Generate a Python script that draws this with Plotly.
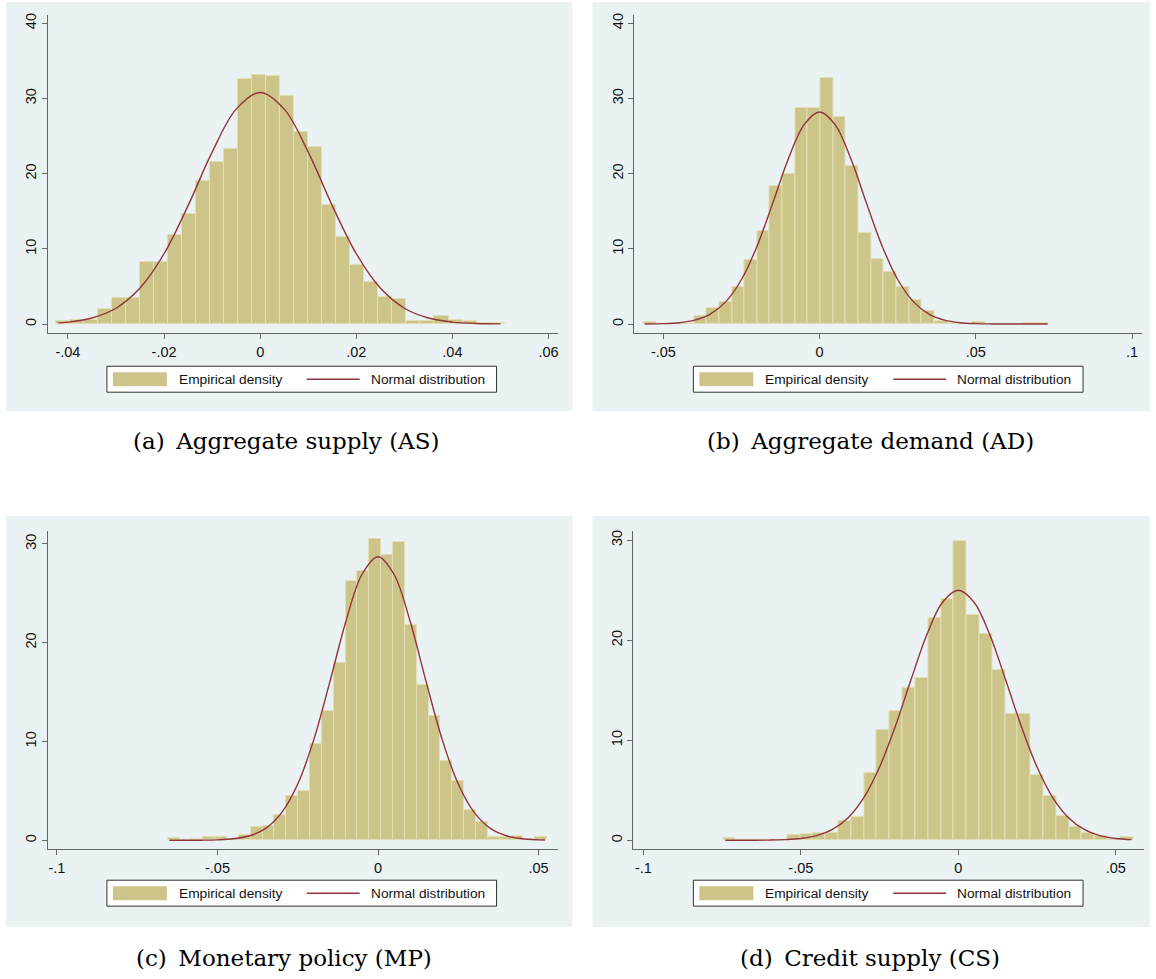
import plotly.graph_objects as go

W, H = 1156, 979

# ---------------- data ----------------
# (a) Aggregate supply
as_bin_start = -0.0425
as_bin_width = 0.002917
as_density = [0.4, 0.6, 0.5, 2.0, 3.5, 3.5, 8.3, 8.3, 11.8, 14.7,
              19.0, 21.5, 23.3, 32.6, 33.1, 33.0, 30.3, 25.6, 23.5, 15.8,
              11.6, 7.9, 5.6, 3.6, 3.3, 0.4, 0.4, 1.1, 0.6, 0.4,
              0.1, 0.1]
as_curve_x = [-0.042, -0.04, -0.035, -0.03, -0.025, -0.02, -0.015, -0.01, -0.005, 0,
              0.005, 0.01, 0.015, 0.02, 0.025, 0.03, 0.035, 0.04, 0.045, 0.05]
as_curve_y = [0.16, 0.26, 0.80, 2.10, 4.78, 9.35, 15.75, 22.86, 28.58, 30.8,
              28.58, 22.86, 15.75, 9.35, 4.78, 2.10, 0.80, 0.26, 0.07, 0.02]

# (b) Aggregate demand
ad_bin_start = -0.0564
ad_bin_width = 0.00405
ad_density = [0.3, 0, 0, 0, 1.1, 2.1, 2.9, 4.9, 8.5, 12.4,
              18.3, 19.9, 28.7, 28.7, 32.7, 27.5, 21.0, 12.1, 8.6, 6.9,
              4.9, 3.2, 1.7, 0.4, 0.1, 0, 0.3, 0, 0, 0,
              0.15, 0.15]
ad_curve_x = [-0.056, -0.05, -0.045, -0.04, -0.035, -0.03, -0.025, -0.02, -0.015, -0.01,
              -0.005, 0, 0.005, 0.01, 0.015, 0.02, 0.025, 0.03, 0.035, 0.04,
              0.045, 0.05, 0.055, 0.06, 0.065, 0.07, 0.073]
ad_curve_y = [0.011, 0.055, 0.18, 0.52, 1.32, 2.98, 5.92, 10.39, 16.08, 21.97,
              26.49, 28.2, 26.49, 21.97, 16.08, 10.39, 5.92, 2.98, 1.32, 0.52,
              0.18, 0.055, 0.015, 0.004, 0.001, 0.0, 0.0]

# (c) Monetary policy
mp_bin_start = -0.0655
mp_bin_width = 0.003693
mp_density = [0.2, 0.05, 0.15, 0.3, 0.3, 0.1, 0.5, 1.4, 1.5, 2.6,
              4.5, 5.0, 9.8, 13.1, 18.0, 26.3, 27.3, 30.5, 28.9, 30.2,
              21.8, 15.7, 12.6, 8.0, 6.0, 3.1, 1.9, 0.3, 0.3, 0.45,
              0.05, 0.3]
mp_curve_x = [-0.065, -0.06, -0.055, -0.05, -0.045, -0.04, -0.035, -0.03, -0.025, -0.02,
              -0.015, -0.01, -0.005, 0, 0.005, 0.01, 0.015, 0.02, 0.025, 0.03,
              0.035, 0.04, 0.045, 0.05, 0.052]
mp_curve_y = [0.0, 0.003, 0.011, 0.045, 0.15, 0.46, 1.21, 2.80, 5.69, 10.19,
              16.03, 22.16, 26.90, 28.7, 26.90, 22.16, 16.03, 10.19, 5.69, 2.80,
              1.21, 0.46, 0.15, 0.045, 0.026]

# (d) Credit supply
cs_bin_start = -0.0747
cs_bin_width = 0.00407
cs_density = [0.2, 0, 0, 0, 0.05, 0.5, 0.6, 0.75, 0.75, 1.9,
              2.3, 6.7, 11.0, 12.9, 15.2, 16.2, 22.2, 24.1, 29.9, 22.5,
              20.6, 17.0, 12.6, 12.6, 6.5, 4.4, 2.4, 1.3, 0.7, 0.4,
              0.1, 0.35]
cs_curve_x = [-0.074, -0.07, -0.065, -0.06, -0.055, -0.05, -0.045, -0.04, -0.035, -0.03,
              -0.025, -0.02, -0.015, -0.01, -0.005, 0, 0.005, 0.01, 0.015, 0.02,
              0.025, 0.03, 0.035, 0.04, 0.045, 0.05, 0.055]
cs_curve_y = [0.0, 0.002, 0.006, 0.021, 0.066, 0.18, 0.47, 1.08, 2.26, 4.27,
              7.33, 11.40, 16.07, 20.55, 23.80, 25.0, 23.80, 20.55, 16.07, 11.40,
              7.33, 4.27, 2.26, 1.08, 0.47, 0.18, 0.066]

# tick labels
ab_y_ticks = [0, 10, 20, 30, 40]
cd_y_ticks = [0, 10, 20, 30]
as_x_ticks = [-0.04, -0.02, 0, 0.02, 0.04, 0.06]
as_x_labels = ["-.04", "-.02", "0", ".02", ".04", ".06"]
ad_x_ticks = [-0.05, 0, 0.05, 0.1]
ad_x_labels = ["-.05", "0", ".05", ".1"]
cd_x_ticks = [-0.1, -0.05, 0, 0.05]
cd_x_labels = ["-.1", "-.05", "0", ".05"]

captions = ["(a)\u2002Aggregate supply (AS)", "(b)\u2002Aggregate demand (AD)",
            "(c)\u2002Monetary policy (MP)", "(d)\u2002Credit supply (CS)"]
legend_labels = ["Empirical density", "Normal distribution"]

# ---------------- styling / layout ----------------
BAR_COLOR = "#CCC488"
BAR_EDGE = "#E3DFB8"
LINE_COLOR = "#90353B"
BG = "#EAF2F3"
AXIS_COLOR = "#666666"
TICK_FONT = dict(family="Liberation Sans, Arial, sans-serif", size=14.5, color="#111111")
LEGEND_FONT = dict(family="Liberation Sans, Arial, sans-serif", size=13.7, color="#111111")
CAPTION_FONT = dict(family="DejaVu Serif, serif", size=23, color="#000000")

panels = [
    dict(start=as_bin_start, width=as_bin_width, dens=as_density, cx=as_curve_x, cy=as_curve_y,
         xt=as_x_ticks, xl=as_x_labels, yt=ab_y_ticks,
         plot=(48, 558, 13, 332), xr=(-0.04416, 0.06187), yr=(-1.234, 41.10),
         bg=(6, 573, 0, 410), caption_xy=(286, 440)),
    dict(start=ad_bin_start, width=ad_bin_width, dens=ad_density, cx=ad_curve_x, cy=ad_curve_y,
         xt=ad_x_ticks, xl=ad_x_labels, yt=ab_y_ticks,
         plot=(635, 1143, 13, 332), xr=(-0.05927, 0.1032), yr=(-1.234, 41.10),
         bg=(593, 1151, 0, 410), caption_xy=(871, 440)),
    dict(start=mp_bin_start, width=mp_bin_width, dens=mp_density, cx=mp_curve_x, cy=mp_curve_y,
         xt=cd_x_ticks, xl=cd_x_labels, yt=cd_y_ticks,
         plot=(48, 558, 530, 849), xr=(-0.1028, 0.05591), yr=(-0.909, 31.31),
         bg=(6, 573, 515, 927), caption_xy=(284, 958)),
    dict(start=cs_bin_start, width=cs_bin_width, dens=cs_density, cx=cs_curve_x, cy=cs_curve_y,
         xt=cd_x_ticks, xl=cd_x_labels, yt=cd_y_ticks,
         plot=(634, 1145, 530, 849), xr=(-0.10317, 0.05898), yr=(-0.898, 30.93),
         bg=(593, 1151, 515, 927), caption_xy=(871, 958)),
]


def px_x(v):
    return v / W


def px_y(v):
    return 1 - v / H


fig = go.Figure()
shapes = []
annotations = []
layout = {}

for i, p in enumerate(panels):
    n = i + 1
    xa = "x" if n == 1 else f"x{n}"
    ya = "y" if n == 1 else f"y{n}"
    centers = [p["start"] + p["width"] * (k + 0.5) for k in range(len(p["dens"]))]
    fig.add_trace(go.Bar(
        x=centers, y=p["dens"], width=p["width"],
        marker=dict(color=BAR_COLOR, line=dict(color=BAR_EDGE, width=1)),
        xaxis=xa, yaxis=ya, showlegend=False, name=legend_labels[0]))
    fig.add_trace(go.Scatter(
        x=p["cx"], y=p["cy"], mode="lines",
        line=dict(color=LINE_COLOR, width=1.4, shape="spline", smoothing=1.0),
        xaxis=xa, yaxis=ya, showlegend=False, name=legend_labels[1]))

    x0, x1, y0, y1 = p["plot"]
    xkey = "xaxis" if n == 1 else f"xaxis{n}"
    ykey = "yaxis" if n == 1 else f"yaxis{n}"
    layout[xkey] = dict(
        domain=[px_x(x0), px_x(x1)], range=list(p["xr"]), anchor=ya,
        tickvals=p["xt"], ticktext=p["xl"], ticks="outside", ticklen=5,
        tickcolor=AXIS_COLOR, showline=True, linecolor=AXIS_COLOR, linewidth=1,
        showgrid=False, zeroline=False, tickfont=TICK_FONT, fixedrange=True)
    layout[ykey] = dict(
        domain=[px_y(y1), px_y(y0)], range=list(p["yr"]), anchor=xa,
        tickvals=p["yt"], ticktext=[str(t) for t in p["yt"]], ticks="outside", ticklen=5,
        tickcolor=AXIS_COLOR, showline=True, linecolor=AXIS_COLOR, linewidth=1,
        showgrid=True, gridcolor=BG, gridwidth=1, zeroline=False,
        tickangle=-90, tickfont=TICK_FONT, fixedrange=True)

    # panel background
    bx0, bx1, by0, by1 = p["bg"]
    shapes.append(dict(type="rect", xref="paper", yref="paper", layer="below",
                       x0=px_x(bx0), x1=px_x(bx1), y0=px_y(by1), y1=px_y(by0),
                       fillcolor=BG, line=dict(width=0)))

    # legend box
    lx = bx0 + 101
    ly = by0 + 365
    shapes.append(dict(type="rect", xref="paper", yref="paper",
                       x0=px_x(lx), x1=px_x(lx + 390), y0=px_y(ly + 26), y1=px_y(ly),
                       fillcolor="white", line=dict(color="#333333", width=1)))
    shapes.append(dict(type="rect", xref="paper", yref="paper",
                       x0=px_x(lx + 6), x1=px_x(lx + 60), y0=px_y(ly + 20), y1=px_y(ly + 6),
                       fillcolor=BAR_COLOR, line=dict(width=0)))
    shapes.append(dict(type="line", xref="paper", yref="paper",
                       x0=px_x(lx + 200), x1=px_x(lx + 253), y0=px_y(ly + 13), y1=px_y(ly + 13),
                       line=dict(color=LINE_COLOR, width=1.4)))
    annotations.append(dict(xref="paper", yref="paper", x=px_x(lx + 70), y=px_y(ly + 13),
                            text=legend_labels[0], showarrow=False, xanchor="left",
                            yanchor="middle", font=LEGEND_FONT))
    annotations.append(dict(xref="paper", yref="paper", x=px_x(lx + 262), y=px_y(ly + 13),
                            text=legend_labels[1], showarrow=False, xanchor="left",
                            yanchor="middle", font=LEGEND_FONT))

    cx, cy = p["caption_xy"]
    annotations.append(dict(xref="paper", yref="paper", x=px_x(cx), y=px_y(cy),
                            text=captions[i], showarrow=False, xanchor="center",
                            yanchor="middle", font=CAPTION_FONT))

fig.update_layout(
    width=W, height=H, margin=dict(l=0, r=0, t=0, b=0),
    paper_bgcolor="white", plot_bgcolor="white",
    showlegend=False, bargap=0,
    shapes=shapes, annotations=annotations,
    **layout)

fig.write_html("out.html", include_plotlyjs=True, full_html=True,
               config={"displayModeBar": False})
